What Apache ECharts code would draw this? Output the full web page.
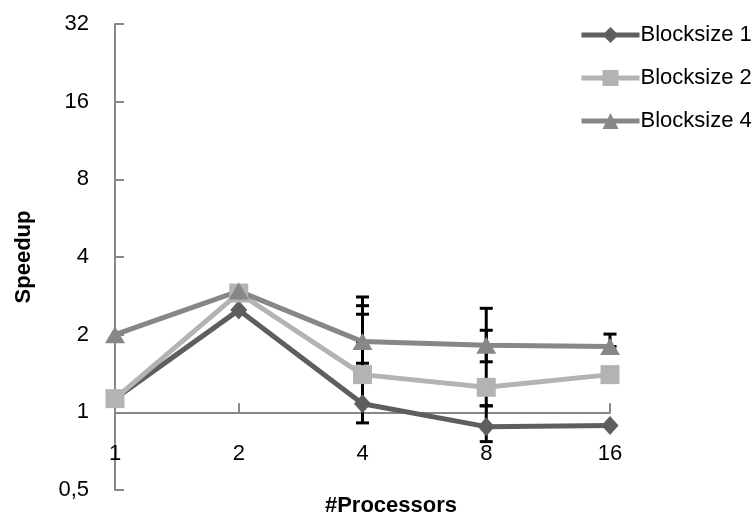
<!DOCTYPE html>
<html><head><meta charset="utf-8">
<script src="https://cdn.jsdelivr.net/npm/echarts@6/dist/echarts.min.js"></script>
<style>html,body{margin:0;padding:0;background:#fff}#c{width:755px;height:520px}</style>
</head><body><div id="c"></div>
<script>
const categories = ['1', '2', '4', '8', '16'];
const seriesNames = ['Blocksize 1', 'Blocksize 2', 'Blocksize 4'];
const blocksize1 = [1.13, 2.49, 1.08, 0.88, 0.89];
const blocksize2 = [1.13, 2.90, 1.40, 1.25, 1.40];
const blocksize4 = [2.00, 2.95, 1.88, 1.82, 1.80];
// error bar bounds per category (null = none)
const err1Low  = [null, null, 0.91, 0.77, null];
const err1High = [null, null, 2.40, 1.06, null];
const err2Low  = [null, null, 1.55, 1.06, null];
const err2High = [null, null, 2.59, 2.08, null];
const err4Low  = [null, null, 1.88, 1.57, 1.80];
const err4High = [null, null, 2.80, 2.53, 2.01];
const yTicks = [0.5, 1, 2, 4, 8, 16, 32];

const FONT = 'Liberation Sans';
const colors = ['#5e5e5e', '#b3b3b3', '#878787'];
const axisColor = '#878787';
const gridTop = 24, gridBottom = 30, gridLeft = 115, gridRight = 145;
const gridH = 520 - gridTop - gridBottom;

const errData = [];
[[err1Low, err1High], [err2Low, err2High], [err4Low, err4High]].forEach(([lo, hi]) => {
  lo.forEach((v, i) => { if (v != null) errData.push([i, v, hi[i]]); });
});

const chart = echarts.init(document.getElementById('c'), null, {renderer: 'canvas'});
const lineSeries = (name, data, color, symbol, size) => ({
  name, type: 'line', data, z: 3,
  symbol, symbolSize: size, showSymbol: true,
  lineStyle: {color, width: 5},
  itemStyle: {color},
  emphasis: {disabled: true},
  animation: false
});
chart.setOption({
  animation: false,
  textStyle: {fontFamily: FONT},
  grid: {left: gridLeft, right: gridRight, top: gridTop, bottom: gridBottom},
  title: {
    text: '#Processors', left: 386, top: 490, textAlign: 'center',
    textStyle: {fontFamily: FONT, fontSize: 22, fontWeight: 'bold', color: '#000'}
  },
  legend: {
    orient: 'vertical', left: 574, top: 19, itemGap: 21,
    itemWidth: 58, itemHeight: 20,
    data: seriesNames,
    lineStyle: {width: 5},
    textStyle: {fontFamily: FONT, fontSize: 22, color: '#000', padding: [0, 0, 0, -4]}
  },
  xAxis: {
    type: 'category', data: categories, boundaryGap: false,
    offset: -(gridH / 6),
    axisLine: {onZero: false, lineStyle: {color: axisColor, width: 2}},
    axisTick: {inside: true, length: 9, lineStyle: {color: axisColor, width: 2}},
    axisLabel: {margin: 31, color: '#000', fontFamily: FONT, fontSize: 22},
    splitLine: {show: false}
  },
  yAxis: {
    type: 'log', logBase: 2, min: 0.5, max: 32, interval: 1,
    name: 'Speedup', nameLocation: 'middle', nameGap: 80,
    nameTextStyle: {fontFamily: FONT, fontSize: 22, fontWeight: 'bold', color: '#000'},
    axisLine: {show: true, lineStyle: {color: axisColor, width: 2}},
    axisTick: {show: true, inside: true, length: 9, lineStyle: {color: axisColor, width: 2}},
    axisLabel: {
      margin: 26, color: '#000', fontFamily: FONT, fontSize: 22,
      formatter: v => String(v).replace('.', ',')
    },
    splitLine: {show: false}
  },
  series: [
    {
      type: 'custom', z: 1, data: errData, silent: true,
      renderItem: (params, api) => {
        const x = api.value(0);
        const lo = api.coord([x, api.value(1)]);
        const hi = api.coord([x, api.value(2)]);
        const w = 6.5;
        const st = {stroke: '#000', lineWidth: 3};
        return {type: 'group', children: [
          {type: 'line', shape: {x1: lo[0], y1: lo[1], x2: hi[0], y2: hi[1]}, style: st},
          {type: 'line', shape: {x1: lo[0] - w, y1: lo[1], x2: lo[0] + w, y2: lo[1]}, style: st},
          {type: 'line', shape: {x1: hi[0] - w, y1: hi[1], x2: hi[0] + w, y2: hi[1]}, style: st}
        ]};
      }
    },
    lineSeries(seriesNames[0], blocksize1, colors[0], 'diamond', [17, 19]),
    lineSeries(seriesNames[1], blocksize2, colors[1], 'rect', 19),
    lineSeries(seriesNames[2], blocksize4, colors[2], 'triangle', [20, 17])
  ]
});
</script></body></html>
